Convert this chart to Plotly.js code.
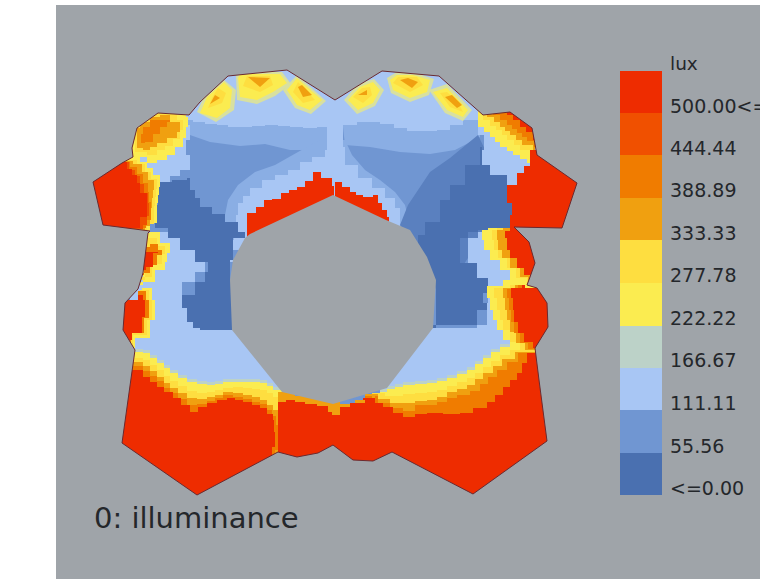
<!DOCTYPE html>
<html><head><meta charset="utf-8">
<script src="https://cdn.plot.ly/plotly-3.0.1.min.js"></script>
<style>html,body{margin:0;padding:0;background:#fff}#c{width:760px;height:583px}</style>
</head><body><div id="c"></div>
<script>
const levelColors=['#4a70b0','#7096d2','#a8c6f4','#bcd2c8','#fbec50','#fede40','#f0a010','#f07c00','#f05000','#ee2c00'];
const blendColors=['#8aaee4','#5a80bf','#d8e0a0'];
const legendLabels=['500.00<=','444.44','388.89','333.33','277.78','222.22','166.67','111.11','55.56','<=0.00'];
const legendLevels=[9,8,7,6,5,4,3,2,1,0];
const legendEdges=[71,113,155,198,240,283,326,368,410,453,495];
const legendTextY=[108,150,192,235,277,320,362,405,448,490];

const outline=[[93,182],[122,163],[133,157],[132,148],[137,128],[158,113],[189,115],[200,102],[228,76],[287,70],[335,100],[382,71],[439,76],[483,115],[510,112],[532,128],[537,155],[577,183],[562,228],[514,227],[529,242],[535,263],[530,277],[527,285],[537,288],[547,303],[548,327],[535,348],[539,380],[547,441],[473,494],[392,452],[373,461],[353,460],[333,445],[318,453],[297,457],[278,452],[197,495],[122,443],[135,350],[123,330],[125,303],[138,289],[143,273],[148,233],[150,231],[103,225]];
const hole=[[250,234],[245,238],[233,260],[230,280],[232,330],[282,392],[333,404],[387,388],[433,328],[436,280],[427,257],[410,230],[386,220],[333,195]];

const base=[1,[[88,58],[88,502],[582,502],[582,58]]];
// soft transitions
const topMidL=[10,[[185,118],[190,135],[210,142],[240,146],[265,144],[290,150],[315,150],[328,147],[327,118]]];
const topMidR=[10,[[342,118],[345,145],[370,147],[400,152],[430,154],[455,150],[480,137],[480,115]]];
const arcMid=[10,[[222,240],[225,215],[228,200],[238,185],[255,172],[275,165],[298,152],[320,140],[345,140],[352,155],[365,170],[380,180],[395,192],[405,205],[410,225],[400,245],[240,250]]];
const darkBlendR=[11,[[400,225],[408,205],[418,190],[430,172],[450,158],[478,135],[490,160],[500,200],[480,240],[440,300],[425,260]]];
const softLayers=[topMidL,topMidR,arcMid,darkBlendR];

const topLight=[2,[[185,60],[185,120],[193,122],[205,124],[217,125],[228,127],[240,127],[252,126],[265,125],[278,126],[290,127],[303,128],[317,127],[328,128],[342,125],[357,122],[370,122],[380,124],[394,128],[407,131],[422,131],[437,130],[450,125],[463,120],[480,117],[480,60]]];
const seamLight=[2,[[327,100],[327,190],[343,190],[343,100]]];
const redArcLeft=[2,[[233,262],[230,240],[234,227],[236,215],[238,203],[243,196],[250,188],[262,180],[275,175],[288,170],[300,162],[312,157],[325,150],[335,147],[345,165],[358,178],[372,188],[385,198],[395,208],[400,225],[400,240],[250,250]]];
const leftColumn=[2,[[130,228],[150,232],[168,228],[180,238],[195,250],[208,262],[205,272],[195,282],[182,295],[187,308],[193,322],[200,328],[232,330],[262,365],[295,400],[240,412],[130,385]]];
const rightLower=[2,[[468,238],[478,232],[490,228],[510,228],[530,290],[530,395],[380,395],[380,328],[433,328],[477,325],[487,310],[483,303],[488,293],[477,278],[460,263]]];
const rightUpperLight=[2,[[478,112],[545,108],[545,190],[507,190],[490,175],[482,165],[480,150],[484,135]]];
const leftUpperLight=[2,[[189,110],[188,125],[190,140],[186,155],[190,170],[180,176],[170,182],[158,178],[125,178],[125,110]]];
const darkLeft=[0,[[158,182],[172,180],[187,178],[190,190],[195,198],[200,207],[212,214],[225,222],[238,232],[245,238],[233,260],[230,280],[232,330],[200,328],[193,322],[187,308],[182,295],[195,282],[205,272],[208,262],[195,250],[180,238],[168,228],[155,227],[155,205]]];
const darkRight=[0,[[480,147],[482,165],[490,175],[507,185],[510,203],[514,228],[488,230],[478,232],[468,238],[460,263],[477,278],[488,293],[483,303],[487,310],[477,325],[433,328],[436,280],[427,257],[418,235],[425,222],[440,200],[450,185],[465,165]]];

const bl3=[3,[[125,349],[135,349],[143,350],[150,355],[157,360],[164,365],[170,370],[178,375],[187,379],[197,381],[207,382],[215,381],[223,379],[233,379],[243,379],[252,379],[260,380],[267,383],[273,387],[282,390],[284,430],[280,500],[110,500]]];
const bl4=[4,[[125,352],[135,352],[143,353],[150,358],[157,363],[164,368],[170,373],[178,378],[187,382],[197,384],[207,385],[215,384],[223,382],[233,382],[243,382],[252,382],[260,383],[267,386],[273,390],[282,393],[284,430],[280,500],[110,500]]];
const bl5=[5,[[125,358],[135,358],[143,360],[150,365],[157,370],[164,376],[170,381],[178,386],[187,391],[197,393],[207,392],[215,390],[223,388],[233,387],[243,388],[252,389],[260,390],[267,393],[273,397],[282,400],[284,430],[280,500],[110,500]]];
const bl6=[6,[[125,362],[135,362],[143,366],[150,371],[157,377],[164,383],[170,388],[178,393],[187,398],[197,399],[207,397],[215,395],[223,392],[233,393],[243,395],[252,397],[260,400],[267,405],[273,410],[280,405],[282,430],[280,500],[110,500]]];
const bl7=[7,[[125,366],[135,366],[143,371],[150,376],[157,381],[164,388],[170,393],[178,399],[187,405],[197,404],[207,401],[215,398],[223,395],[233,397],[243,399],[252,402],[260,404],[267,410],[272,416],[276,425],[278,450],[275,500],[110,500]]];
const bl9=[9,[[110,370],[132,370],[143,377],[150,382],[157,387],[164,392],[173,398],[181,405],[190,412],[198,407],[207,403],[217,400],[227,398],[235,400],[243,402],[252,405],[260,408],[267,414],[273,420],[274,432],[275,447],[272,500],[110,500]]];
const br3=[3,[[380,389],[387,386],[395,384],[403,382],[415,381],[427,380],[437,378],[447,375],[457,371],[467,367],[475,361],[483,355],[491,349],[500,344],[510,341],[545,342],[555,500],[380,500]]];
const br4=[4,[[380,392],[387,389],[395,387],[403,385],[415,384],[427,383],[437,381],[447,378],[457,374],[467,370],[475,364],[483,358],[491,352],[500,347],[510,344],[545,345],[555,500],[380,500]]];
const br5=[5,[[372,393],[385,396],[395,396],[403,394],[415,393],[427,392],[437,390],[447,386],[457,382],[467,378],[475,373],[483,367],[491,361],[500,355],[510,350],[545,348],[555,500],[380,500]]];
const br6=[6,[[365,394],[378,399],[390,403],[403,403],[415,401],[427,400],[437,397],[447,392],[457,389],[467,385],[475,379],[483,373],[493,366],[502,359],[515,352],[545,350],[555,500],[380,500]]];
const br7=[7,[[365,396],[378,403],[390,408],[403,411],[415,405],[427,405],[437,402],[447,398],[457,395],[470,391],[480,384],[488,377],[497,370],[507,362],[518,353],[545,350],[555,500],[380,500]]];
const br9=[9,[[363,398],[373,403],[383,407],[393,413],[403,417],[415,414],[427,413],[443,414],[460,413],[473,408],[487,402],[495,395],[503,387],[510,380],[517,373],[522,363],[527,353],[555,350],[555,500],[350,500]]];
const midBand=[6,[[278,392],[295,396],[310,398],[325,402],[340,404],[355,400],[372,394],[375,500],[275,500]]];
const midRedA=[9,[[278,402],[286,400],[295,402],[305,404],[317,406],[328,412],[332,415],[340,407],[350,403],[365,398],[375,500],[278,500]]];

const lobeR1=[[4,[[478,127],[484,132],[490,137],[495,142],[500,147],[507,151],[513,155],[520,159],[527,163],[545,155],[535,105],[475,105]]],
[5,[[483,120],[490,126],[496,130],[502,135],[507,140],[514,145],[520,150],[530,157],[545,155],[535,105],[480,105]]],
[6,[[487,117],[494,122],[500,127],[505,131],[510,135],[516,140],[522,145],[533,152],[545,150],[535,105],[485,105]]],
[7,[[493,115],[500,120],[507,125],[512,129],[517,133],[522,137],[527,141],[534,147],[545,145],[535,105],[490,105]]],
[9,[[507,115],[513,120],[520,127],[526,132],[533,140],[545,140],[535,105],[505,105]]]];
const lobeL1=[[4,[[133,157],[147,163],[157,160],[167,155],[175,147],[183,138],[186,127],[188,117],[186,108],[125,108],[125,155]]],
[5,[[135,152],[147,155],[157,150],[165,146],[173,139],[180,130],[183,120],[177,110],[160,113],[138,125],[134,140]]],
[6,[[137,148],[143,150],[150,147],[157,143],[167,138],[177,132],[180,122],[170,115],[160,117],[150,122],[140,128]]],
[7,[[141,143],[145,142],[153,134],[160,127],[167,122],[170,120],[160,120],[150,127],[143,134]]]];
const pentL=[[4,[[133,157],[140,162],[147,168],[153,175],[160,187],[159,195],[158,203],[157,213],[157,223],[150,232],[85,232],[85,157]]],
[5,[[125,160],[137,164],[145,172],[151,179],[157,189],[156,197],[155,206],[154,216],[154,224],[147,232],[85,232],[85,160]]],
[6,[[125,161],[133,164],[142,172],[148,180],[154,190],[153,198],[152,208],[151,218],[150,226],[145,232],[85,232],[85,160]]],
[7,[[125,162],[130,167],[137,174],[143,183],[148,192],[149,202],[151,212],[151,220],[146,228],[85,232],[85,162]]],
[8,[[125,162],[129,170],[135,176],[140,184],[144,193],[148,203],[149,216],[147,225],[143,229],[85,232],[85,162]]],
[9,[[85,162],[122,162],[127,169],[132,175],[137,183],[140,193],[147,203],[147,217],[140,228],[85,232]]]];
const lobeLL=[[4,[[143,233],[150,232],[160,243],[170,253],[167,262],[165,270],[155,282],[140,285]]],
[5,[[145,238],[157,246],[165,254],[162,264],[152,277],[140,280]]],
[7,[[144,247],[150,244],[158,250],[162,255],[157,265],[150,273],[140,275]]],
[9,[[140,250],[146,252],[158,253],[153,267],[146,270],[140,268]]]];
const lobeL2=[[4,[[142,288],[152,300],[155,320],[150,338],[135,348],[115,340],[115,300]]],
[5,[[140,290],[149,300],[152,320],[147,335],[133,345],[115,340],[115,300]]],
[7,[[138,291],[146,300],[149,318],[144,333],[131,344],[115,340],[115,300]]],
[9,[[138,295],[143,300],[145,317],[142,333],[132,340],[115,335],[115,300]]]];
const lobeR2=[[4,[[503,286],[487,298],[490,310],[493,320],[497,330],[503,340],[510,348],[535,352],[560,350],[560,280]]],
[5,[[510,288],[494,298],[497,310],[500,320],[503,330],[510,342],[520,350],[560,350],[560,285]]],
[6,[[515,288],[503,298],[505,310],[507,320],[510,332],[516,343],[525,350],[560,350],[560,285]]],
[7,[[518,289],[507,298],[509,310],[511,322],[514,333],[520,343],[528,349],[560,349],[560,285]]],
[9,[[522,288],[511,298],[513,310],[514,322],[518,333],[524,342],[533,348],[560,345],[560,285]]]];
const lobeRm=[[4,[[488,230],[482,240],[484,250],[490,260],[500,270],[510,280],[525,288],[560,285],[560,228]]],
[5,[[497,230],[492,240],[494,250],[498,258],[507,268],[516,278],[527,285],[560,280],[560,228]]],
[6,[[503,230],[497,240],[498,250],[502,258],[510,268],[520,277],[528,282],[560,280],[560,228]]],
[9,[[512,231],[505,238],[507,250],[510,258],[517,268],[524,275],[530,278],[560,270],[560,228]]]];
const pentR=[9,[[530,150],[585,150],[585,233],[514,233],[510,215],[512,203],[507,195],[507,185],[517,173],[524,166]]];
const redBandL=[9,[[247,242],[247,213],[256,207],[264,200],[272,199],[281,193],[289,190],[297,187],[305,181],[313,172],[321,178],[332,186],[334,242]]];
const redBandR=[9,[[335,182],[342,187],[350,192],[356,195],[363,197],[373,195],[378,203],[382,210],[387,217],[389,230],[330,230]]];

const topBlobs=[
[12,[[197,112],[216,122],[234,110],[236,90],[224,80],[204,97]]],
[12,[[236,76],[237,100],[257,104],[275,96],[291,84],[282,72],[240,72]]],
[12,[[283,90],[295,108],[311,114],[326,101],[297,75]]],
[12,[[344,100],[357,114],[375,106],[384,90],[374,79],[358,84]]],
[12,[[387,78],[391,93],[410,102],[429,95],[434,79],[413,72],[397,72]]],
[12,[[429,90],[445,113],[463,121],[472,110],[447,84]]],
[4,[[200,113],[217,118],[230,108],[232,90],[224,82],[207,97]]],[5,[[208,108],[222,103],[226,93],[218,88],[212,98]]],[6,[[210,104],[220,98],[215,95]]],
[4,[[238,78],[240,97],[257,100],[273,92],[287,83],[280,74],[240,74]]],[5,[[243,86],[260,92],[273,85],[270,76],[247,76]]],[6,[[248,77],[270,78],[260,87]]],
[4,[[287,90],[297,105],[310,110],[322,100],[297,78]]],[5,[[293,92],[303,103],[315,100],[298,82]]],[6,[[298,87],[303,97],[312,95],[302,85]]],
[4,[[348,100],[358,110],[373,103],[380,90],[373,82],[360,87]]],[5,[[353,97],[363,103],[372,95],[370,87],[362,88]]],[6,[[358,95],[367,95],[367,90]]],
[4,[[390,80],[393,90],[410,98],[427,92],[430,80],[413,75],[397,75]]],[5,[[393,83],[410,92],[423,85],[417,77],[398,77]]],[6,[[400,80],[412,88],[418,82],[408,78]]],
[4,[[433,92],[447,110],[463,117],[468,110],[447,88]]],[5,[[440,93],[450,107],[463,112],[458,102],[447,92]]],[6,[[445,97],[457,108],[462,105],[452,95]]]];

const stepped=[topLight,seamLight,redArcLeft,leftColumn,rightLower,rightUpperLight,leftUpperLight,darkLeft,darkRight,
 bl3,bl4,bl5,bl6,bl7,bl9,br3,br4,br5,br6,br7,br9,midBand,midRedA,
 ...lobeR1,...lobeL1,...pentL,...lobeLL,...lobeL2,...lobeR2,...lobeRm,pentR,redBandL,redBandR];

const allColors=[...levelColors,...blendColors];
const xs=p=>p.map(a=>a[0]), ys=p=>p.map(a=>a[1]);
const poly=(lvl,pts,shape)=>({type:'scatter',mode:'lines',x:[...xs(pts),pts[0][0]],y:[...ys(pts),pts[0][1]],fill:'toself',fillcolor:allColors[lvl],line:{width:0,shape:shape,color:allColors[lvl]},hoverinfo:'skip',showlegend:false});

const traces=[poly(base[0],base[1],'linear')];
softLayers.forEach(r=>traces.push(poly(r[0],r[1],'linear')));
stepped.forEach(r=>traces.push(poly(r[0],r[1],'hv')));
topBlobs.forEach(r=>traces.push(poly(r[0],r[1],'linear')));

const frame=[[84,54],[84,506],[586,506],[586,54],[84,54]];
const closed=p=>[...p,p[0]];
const maskX=[...xs(frame),null,...xs(closed(outline)),null,...xs(closed(hole))];
const maskY=[...ys(frame),null,...ys(closed(outline)),null,...ys(closed(hole))];
const bg='#9fa4a9';
traces.push({type:'scatter',mode:'lines',x:maskX,y:maskY,fill:'toself',fillcolor:bg,line:{width:0},hoverinfo:'skip',showlegend:false});
traces.push({type:'scatter',mode:'lines',x:xs(closed(outline)),y:ys(closed(outline)),line:{width:1,color:'#6a2a30'},hoverinfo:'skip',showlegend:false});

const scale=[];levelColors.forEach((c,i)=>{scale.push([i/10,c]);scale.push([(i+1)/10,c]);});
traces.push({type:'heatmap',x:[620,662],y:legendEdges,z:legendLevels.map(v=>[v+0.5]),zmin:0,zmax:10,colorscale:scale,showscale:false,hoverinfo:'skip'});
const font={family:'"DejaVu Sans",Verdana,sans-serif',color:'#24272b'};
traces.push({type:'scatter',mode:'text',x:legendLabels.map(()=>670),y:legendTextY,text:legendLabels,textposition:'middle right',textfont:{...font,size:19},hoverinfo:'skip',showlegend:false});
traces.push({type:'scatter',mode:'text',x:[670],y:[65],text:['lux'],textposition:'middle right',textfont:{...font,size:18.5},hoverinfo:'skip',showlegend:false});
traces.push({type:'scatter',mode:'text',x:[94],y:[521],text:['0: illuminance'],textposition:'middle right',textfont:{...font,size:29},hoverinfo:'skip',showlegend:false});

const layout={width:760,height:583,margin:{l:56,r:0,t:5,b:4},paper_bgcolor:'#fff',plot_bgcolor:bg,showlegend:false,
 xaxis:{range:[56,760],visible:false,fixedrange:true},yaxis:{range:[579,5],visible:false,fixedrange:true}};
Plotly.newPlot('c',traces,layout,{staticPlot:true,displayModeBar:false});
</script></body></html>
